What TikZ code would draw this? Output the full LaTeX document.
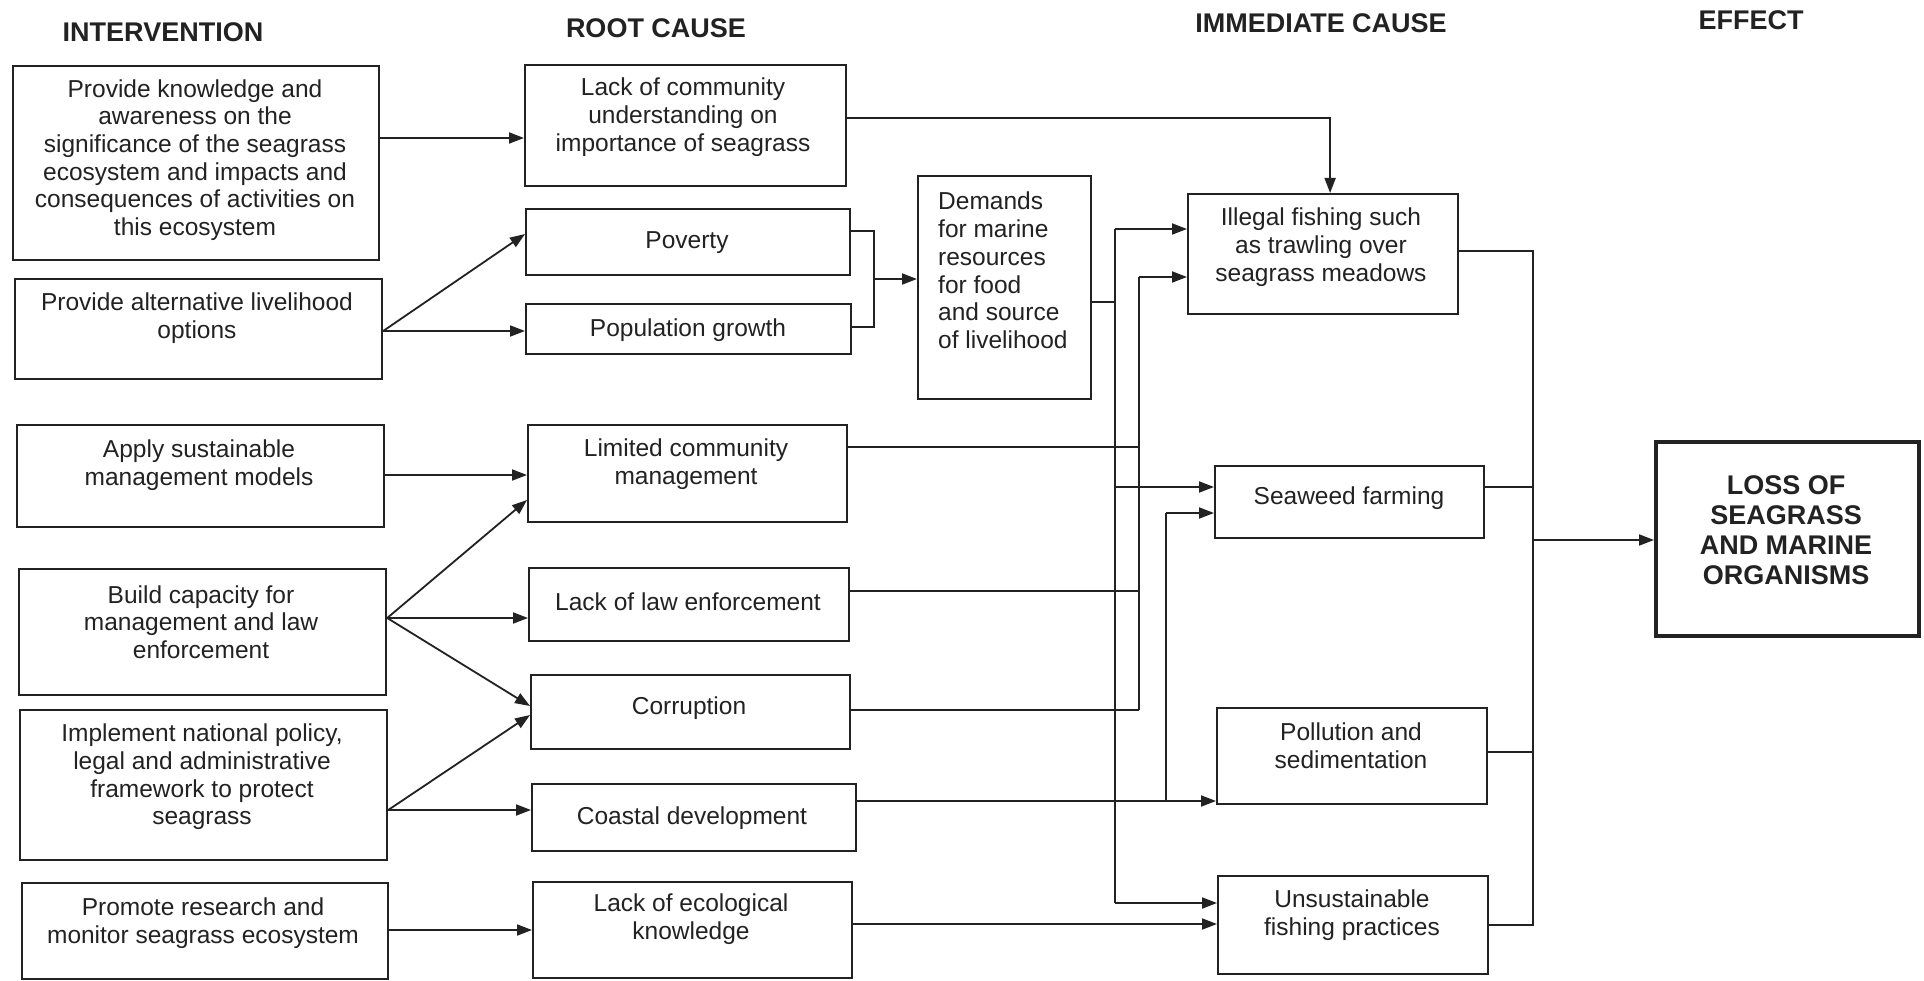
\documentclass[tikz,border=0pt]{standalone}
\usepackage{fontspec}
\setmainfont{Liberation Sans}
\usetikzlibrary{arrows.meta}
\definecolor{ink}{HTML}{222222}
\newcommand\mkbox[6][]{\node[box,#1,anchor=north west,minimum width={#4-#2},minimum height={#5-#3}] (#6) at (#2,#3) {};}
\begin{document}
\begin{tikzpicture}[x=1pt,y=-1pt,
  box/.style={draw=ink, line width=2.2pt, inner sep=0pt},
  txt/.style={text=ink, font=\fontsize{24.5}{27.7}\selectfont, align=center, inner sep=0pt},
  hdr/.style={text=ink, font=\fontsize{27}{30}\selectfont\bfseries, inner sep=0pt},
  arr/.style={draw=ink, line width=1.8pt, -{Triangle[length=15pt,width=11pt]}},
  ln/.style={draw=ink, line width=1.8pt}]
\fill[white] (0,0) rectangle (1924,981);
\useasboundingbox (0,0) rectangle (1924,981);

% headers
\node[hdr] (h1) at (163,32) {INTERVENTION};
\node[hdr] (h2) at (656,28) {ROOT CAUSE};
\node[hdr] (h3) at (1321,23) {IMMEDIATE CAUSE};
\node[hdr] (h4) at (1751,20) {EFFECT};

% intervention boxes
\mkbox{12}{65}{378}{259}{i1}
\mkbox{14}{278}{381}{378}{i2}
\mkbox{16}{424}{383}{526}{i3}
\mkbox{18}{568}{385}{694}{i4}
\mkbox{19}{709}{386}{859}{i5}
\mkbox{21}{882}{387}{978}{i6}
\node[txt] (i1t) at (195,160) {Provide knowledge and\\awareness on the\\significance of the seagrass\\ecosystem and impacts and\\consequences of activities on\\this ecosystem};
\node[txt] (i2t) at (197,318) {Provide alternative livelihood\\options};
\node[txt] (i3t) at (199,465) {Apply sustainable\\management models};
\node[txt] (i4t) at (201,622) {Build capacity for\\management and law\\enforcement};
\node[txt] (i5t) at (202,777) {Implement national policy,\\legal and administrative\\framework to protect\\seagrass};
\node[txt] (i6t) at (203,923) {Promote research and\\monitor seagrass ecosystem};

% root cause boxes
\mkbox{524}{64}{845}{185}{r1}
\mkbox{525}{208}{849}{274}{r2}
\mkbox{525}{303}{850}{353}{r3}
\mkbox{527}{424}{846}{521}{r4}
\mkbox{528}{567}{848}{640}{r5}
\mkbox{530}{674}{849}{748}{r6}
\mkbox{531}{783}{855}{850}{r7}
\mkbox{532}{881}{851}{977}{r8}
\node[txt] (r1t) at (683,117) {Lack of community\\understanding on\\importance of seagrass};
\node[txt] (r2t) at (687,243) {Poverty};
\node[txt] (r3t) at (688,330) {Population growth};
\node[txt] (r4t) at (686,464) {Limited community\\management};
\node[txt] (r5t) at (688,602) {Lack of law enforcement};
\node[txt] (r6t) at (689,708) {Corruption};
\node[txt] (r7t) at (692,818) {Coastal development};
\node[txt] (r8t) at (691,919) {Lack of ecological\\knowledge};

% demands
\mkbox{917}{175}{1090}{398}{d}
\node[txt, align=left, anchor=north west] (dt) at (938,192) {Demands\\for marine\\resources\\for food\\and source\\of livelihood};

% immediate causes
\mkbox{1187}{193}{1457}{313}{c1}
\mkbox{1214}{465}{1483}{537}{c2}
\mkbox{1216}{707}{1486}{803}{c3}
\mkbox{1217}{875}{1487}{973}{c4}
\node[txt] (c1t) at (1321,247) {Illegal fishing such\\as trawling over\\seagrass meadows};
\node[txt] (c2t) at (1349,498) {Seaweed farming};
\node[txt] (c3t) at (1351,746) {Pollution and\\sedimentation};
\node[txt] (c4t) at (1352,915) {Unsustainable\\fishing practices};

% effect
\mkbox[line width=4pt]{1654}{440}{1917}{634}{e}
\node[txt, font=\fontsize{27}{30}\selectfont\bfseries] (et) at (1786,530) {LOSS OF\\SEAGRASS\\AND MARINE\\ORGANISMS};

% intervention -> root cause
\draw[arr] (i1.east |- 0,138) -- (r1.west |- 0,138);
\coordinate (s2) at (i2.east |- 0,331);
\draw[arr] (s2) -- (r2.west |- 0,234);
\draw[arr] (s2) -- (r3.west |- s2);
\draw[arr] (i3.east |- 0,475) -- (r4.west |- 0,475);
\coordinate (s4) at (i4.east |- 0,618);
\draw[arr] (s4) -- (r4.west |- 0,500);
\draw[arr] (s4) -- (r5.west |- s4);
\draw[arr] (s4) -- (r6.west |- 0,706);
\coordinate (s5) at (i5.east |- 0,810);
\draw[arr] (s5) -- (r6.west |- 0,715);
\draw[arr] (s5) -- (r7.west |- s5);
\draw[arr] (i6.east |- 0,930) -- (r8.west |- 0,930);

% poverty / population -> demands
\coordinate (j1) at (874,279);
\draw[ln] (r2.east |- 0,231) -| (j1) |- (r3.east |- 0,327);
\draw[arr] (j1) -- (d.west |- j1);

% lack of community understanding -> illegal fishing
\draw[arr] (r1.east |- 0,118) -| ([xshift=7pt]c1.north);

% bus 1 (demands)
\coordinate (b1a) at (1115,229);
\coordinate (b1b) at (1115,903);
\draw[ln] (b1a) -- (b1b);
\draw[ln] (d.east |- 0,302) -- (b1a |- 0,302);
\draw[arr] (b1a) -- (c1.west |- b1a);
\draw[arr] (b1a |- 0,487) -- (c2.west |- 0,487);
\draw[arr] (b1b) -- (c4.west |- b1b);

% bus 2 (management, law, corruption)
\coordinate (b2a) at (1139,277);
\coordinate (b2b) at (1139,710);
\draw[ln] (b2a) -- (b2b);
\draw[arr] (b2a) -- (c1.west |- b2a);
\draw[ln] (r4.east |- 0,447) -- (b2a |- 0,447);
\draw[ln] (r5.east |- 0,591) -- (b2a |- 0,591);
\draw[ln] (r6.east |- 0,710) -- (b2b);

% bus 3 (coastal development)
\coordinate (b3a) at (1166,513);
\coordinate (b3b) at (1166,801);
\draw[ln] (b3a) -- (b3b);
\draw[arr] (b3a) -- (c2.west |- b3a);
\draw[arr] (r7.east |- 0,801) -- (c3.west |- 0,801);

% ecological knowledge
\draw[arr] (r8.east |- 0,924) -- (c4.west |- 0,924);

% output bus
\coordinate (o1) at (1533,251);
\coordinate (o2) at (1533,925);
\coordinate (oj) at (1533,540);
\draw[ln] (c1.east |- o1) -- (o1) -- (o2) -- (c4.east |- o2);
\draw[ln] (c2.east |- 0,487) -- (o1 |- 0,487);
\draw[ln] (c3.east |- 0,752) -- (o1 |- 0,752);
\draw[arr] (oj) -- (e.west |- oj);
\end{tikzpicture}
\end{document}
